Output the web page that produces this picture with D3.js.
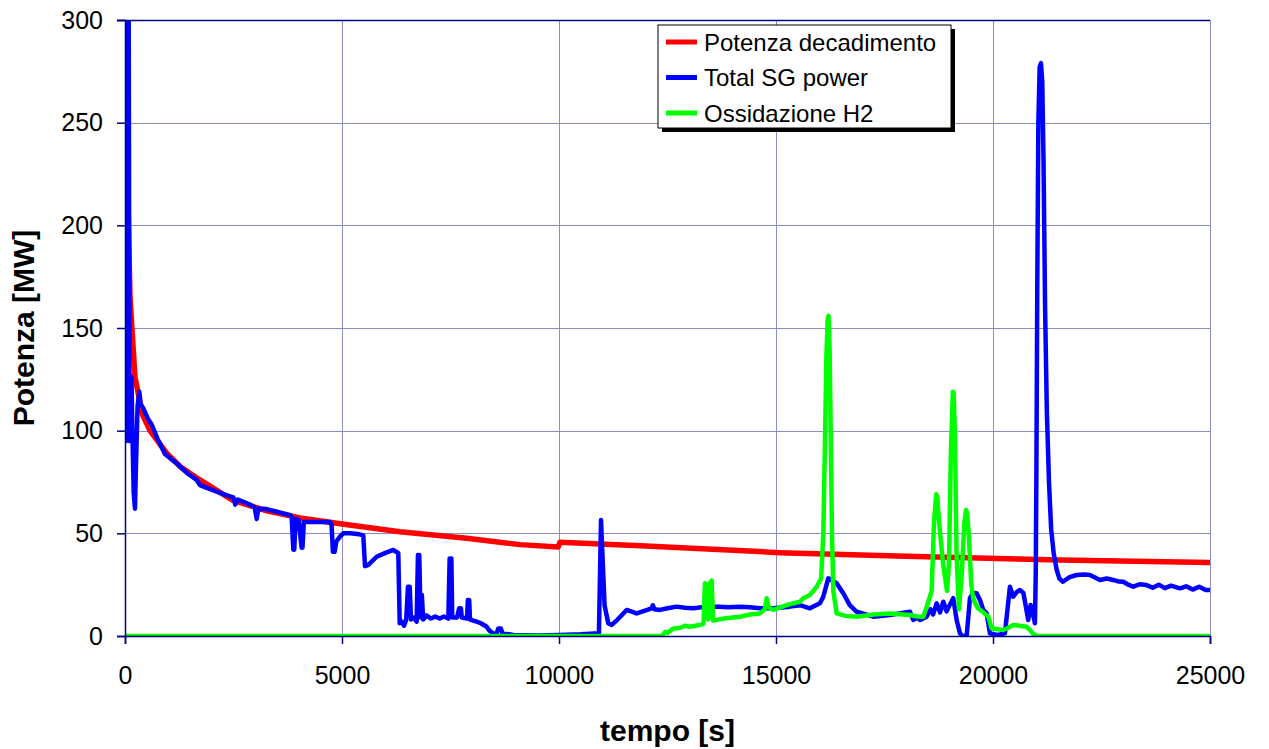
<!DOCTYPE html>
<html lang="it">
<head>
<meta charset="UTF-8">
<title>Potenza vs tempo</title>
<script src="https://d3js.org/d3.v7.min.js"></script>
<style>
  body { margin: 0; background: #fff; font-family: Arial, "Liberation Sans", sans-serif; }
  .tick text { font-family: Arial, "Liberation Sans", sans-serif; }
</style>
</head>
<body>
<svg id="chart" width="1269" height="749"></svg>
<script>
// --- data: [tempo s, potenza MW] ---
const decayPower = [
  [0, 330], [50, 230], [115, 165], [230, 126], [400, 108], [576, 100], [960, 89],
  [1300, 82], [1728, 76], [2488, 66], [3264, 61], [4032, 57.5], [5000, 54.5],
  [6336, 50.8], [7873, 47.6], [9100, 44.5], [9980, 43.3], [10020, 45.6],
  [12000, 43.8], [15092, 40.6], [18000, 38.8], [21544, 37], [25000, 35.8]
];

const sgPower = [
  [0, 310], [25, 95], [45, 315], [65, 98], [85, 305], [105, 95], [118, 127], [135, 105],
  [150, 126], [170, 100], [200, 70], [230, 62], [255, 85], [290, 112], [330, 119],
  [360, 113], [420, 111], [480, 108], [537, 105.5], [614, 103], [750, 96], [921, 88.6],
  [1190, 84], [1450, 79], [1651, 76], [1728, 73.5], [1900, 72], [2112, 70.3],
  [2350, 68.5], [2496, 67.5], [2540, 64], [2600, 66.5], [2880, 64], [2990, 62.5],
  [3034, 57], [3070, 62], [3264, 61.8], [3500, 60.5], [3802, 58.9], [3840, 58],
  [3878, 42], [3900, 42], [3930, 57], [4000, 56.5], [4070, 43], [4090, 43], [4120, 55.5],
  [4400, 55.5], [4723, 55.5], [4760, 54], [4790, 41], [4830, 41], [4870, 46],
  [4953, 48.4], [5030, 50], [5184, 50], [5400, 49.5], [5490, 49], [5530, 34],
  [5600, 34.5], [5798, 38.6], [6000, 40.5], [6182, 41.9], [6297, 40.3], [6330, 6.2],
  [6380, 7], [6430, 5], [6480, 8], [6520, 24], [6560, 24], [6590, 8], [6650, 9],
  [6720, 7], [6750, 39.5], [6780, 39.5], [6810, 9], [6840, 20], [6870, 8], [6950, 10],
  [7050, 8.5], [7150, 9.5], [7250, 8.5], [7350, 9.5], [7450, 8.5], [7480, 37.8],
  [7520, 37.8], [7540, 9], [7650, 9], [7700, 13.5], [7740, 13.5], [7760, 9], [7880, 8.5],
  [7900, 17.5], [7930, 17.5], [7950, 8], [8102, 7], [8200, 6.2], [8333, 4.5], [8400, 2.5],
  [8487, 1.3], [8560, 0.8], [8600, 3.7], [8660, 3.7], [8700, 1], [8800, 1], [8947, 0.5],
  [9500, 0.3], [10000, 0.5], [10500, 0.8], [10920, 1.3], [10945, 30], [10968, 56.5],
  [11000, 40], [11050, 15], [11135, 6.2], [11214, 5.4], [11350, 8], [11559, 12.7],
  [11789, 11], [12000, 12.5], [12135, 13.5], [12160, 15], [12200, 13], [12326, 12.7],
  [12500, 13.5], [12711, 14.3], [12900, 13.8], [13095, 13.5], [13402, 14.3], [13700, 14.3],
  [13900, 14], [14171, 14.3], [14400, 14], [14631, 13.5], [14939, 13.5], [15322, 14.3],
  [15552, 15], [15782, 13.5], [16013, 15.9], [16089, 19.1], [16204, 28.1], [16300, 27],
  [16397, 25.7], [16550, 20.8], [16700, 15], [16858, 11.8], [17242, 9.4], [17626, 10.2],
  [18086, 11.8], [18163, 7.8], [18250, 9], [18320, 7.8], [18470, 9.4], [18560, 13],
  [18620, 10.5], [18701, 15.9], [18780, 11.5], [18855, 16.7], [18930, 12], [19000, 15],
  [19084, 18.4], [19162, 7.8], [19238, 1.3], [19300, 0], [19393, 0], [19469, 18.4],
  [19545, 21], [19622, 20.8], [19700, 17.5], [19776, 12.7], [19853, 11], [19930, 1.3],
  [20100, 0.5], [20275, 1.3], [20390, 24], [20466, 19.1], [20550, 21.5], [20620, 22.4],
  [20700, 21], [20812, 7.8], [20867, 15.1], [20900, 13], [20966, 6.2], [20985, 30],
  [21000, 80], [21020, 170], [21045, 250], [21075, 277], [21105, 279], [21135, 270],
  [21165, 230], [21200, 160], [21240, 110], [21290, 75], [21340, 52], [21400, 40],
  [21470, 32], [21530, 28], [21612, 26.4], [21750, 28.5], [21927, 29.7],
  [22100, 30], [22234, 29.7], [22350, 28.5], [22464, 27.3], [22620, 28], [22771, 27.3],
  [22900, 26.5], [23001, 26.4], [23120, 25], [23232, 24], [23380, 25.2], [23539, 24.8],
  [23680, 23.5], [23820, 25], [23960, 23.3], [24100, 24.5], [24307, 23.2], [24450, 24.2],
  [24600, 22.6], [24750, 24], [24900, 22.4], [25000, 22.4]
];

const h2Power = [
  [0, 0], [12365, 0], [12450, 2], [12500, 1.5], [12634, 3.7], [12800, 4], [12900, 5],
  [13000, 4.5], [13249, 5.4], [13330, 6], [13363, 25.7], [13400, 24], [13440, 8],
  [13480, 26], [13517, 27], [13550, 7.5], [13800, 8.5], [14000, 9], [14171, 9.4],
  [14400, 10.5], [14631, 11], [14740, 13], [14785, 18.4], [14830, 14], [14937, 12.7],
  [15100, 14], [15322, 15.5], [15552, 16.7], [15628, 18.4], [15782, 20], [15937, 24],
  [16040, 28], [16090, 50], [16125, 90], [16160, 135], [16190, 154], [16210, 156],
  [16235, 140], [16260, 100], [16290, 50], [16320, 22], [16398, 11], [16600, 9.8],
  [16858, 9.4], [17242, 10.5], [17626, 11], [18086, 10.2], [18250, 9.5], [18393, 9.4],
  [18470, 14], [18530, 18], [18586, 22], [18640, 55], [18690, 69], [18715, 68],
  [18760, 55], [18850, 35], [18940, 22], [18985, 35], [19030, 90], [19075, 119],
  [19095, 118], [19125, 95], [19160, 40], [19216, 13], [19280, 30], [19340, 55],
  [19380, 61.4], [19405, 60], [19440, 50], [19500, 25], [19545, 18], [19650, 13.5],
  [19750, 12], [19891, 9.4], [19968, 3.7], [20236, 2.9], [20350, 4], [20466, 5.4],
  [20600, 5], [20775, 4.5], [20850, 3], [20927, 1], [21000, 0], [25000, 0]
];

const xTicks = [0, 5000, 10000, 15000, 20000, 25000];
const yTicks = [0, 50, 100, 150, 200, 250, 300];
const seriesNames = ["Potenza decadimento", "Total SG power", "Ossidazione H2"];
const seriesColors = ["#ff0000", "#0000ff", "#00ff00"];

// --- layout ---
const margin = { left: 125, top: 20, right: 59, bottom: 113 };
const W = 1269, H = 749;
const iw = W - margin.left - margin.right;
const ih = H - margin.top - margin.bottom;

const svg = d3.select("#chart");
const g = svg.append("g").attr("transform", `translate(${margin.left},${margin.top})`);

const x = d3.scaleLinear().domain([0, 25000]).range([0, iw]);
const y = d3.scaleLinear().domain([0, 300]).range([ih, 0]);

svg.append("defs").append("clipPath").attr("id", "plotClip")
  .append("rect").attr("width", iw).attr("height", ih);

// gridlines
g.append("g").selectAll("line").data(yTicks.filter(d => d > 0)).join("line")
  .attr("x1", 0).attr("x2", iw)
  .attr("y1", d => Math.round(y(d)) + 0.5).attr("y2", d => Math.round(y(d)) + 0.5)
  .attr("stroke", "#8c8cc8").attr("stroke-width", 1);
g.append("g").selectAll("line").data(xTicks.filter(d => d > 0)).join("line")
  .attr("y1", 0).attr("y2", ih)
  .attr("x1", d => Math.round(x(d)) + 0.5).attr("x2", d => Math.round(x(d)) + 0.5)
  .attr("stroke", "#8c8cc8").attr("stroke-width", 1);

// series
const line = d3.line().x(d => x(d[0])).y(d => y(d[1]));
const plot = g.append("g").attr("clip-path", "url(#plotClip)");
[decayPower, sgPower, h2Power].forEach((data, i) => {
  plot.append("path")
    .datum(data)
    .attr("fill", "none")
    .attr("stroke", seriesColors[i])
    .attr("stroke-width", i === 0 ? 5.5 : 4.5)
    .attr("stroke-linejoin", "round")
    .attr("d", line);
});

// axes
const xAxis = g.append("g").attr("transform", `translate(0,${ih})`)
  .call(d3.axisBottom(x).tickValues(xTicks).tickSize(8).tickPadding(22).tickFormat(d3.format("d")));
const yAxis = g.append("g")
  .call(d3.axisLeft(y).tickValues(yTicks).tickSize(8).tickPadding(14));
[xAxis, yAxis].forEach(a => {
  a.select(".domain").attr("stroke", "#000080").attr("stroke-width", 1.5);
  a.selectAll(".tick line").attr("stroke", "#000080").attr("stroke-width", 1.5);
  a.selectAll(".tick text").attr("font-size", 25).attr("fill", "#000");
});
// top border line
g.append("line").attr("x1", -8).attr("x2", iw).attr("y1", 0.5).attr("y2", 0.5)
  .attr("stroke", "#000080").attr("stroke-width", 1.5);

// axis titles
svg.append("text")
  .attr("x", margin.left + iw / 2).attr("y", 741)
  .attr("text-anchor", "middle")
  .attr("font-size", 30).attr("font-weight", "bold")
  .text("tempo [s]");
svg.append("text")
  .attr("transform", `translate(34,${margin.top + ih / 2}) rotate(-90)`)
  .attr("text-anchor", "middle")
  .attr("font-size", 30).attr("font-weight", "bold")
  .text("Potenza [MW]");

// legend
const lg = svg.append("g").attr("transform", "translate(658,25)");
lg.append("rect").attr("x", 4).attr("y", 4).attr("width", 293).attr("height", 103).attr("fill", "#000");
lg.append("rect").attr("width", 293).attr("height", 103).attr("fill", "#fff").attr("stroke", "#000").attr("stroke-width", 1);
seriesNames.forEach((name, i) => {
  const yy = 17 + i * 35.5;
  lg.append("line").attr("x1", 8).attr("x2", 39).attr("y1", yy).attr("y2", yy)
    .attr("stroke", seriesColors[i]).attr("stroke-width", 5);
  lg.append("text").attr("x", 46).attr("y", yy + 8.5)
    .attr("font-size", 24).attr("fill", "#000").text(name);
});
</script>
</body>
</html>
